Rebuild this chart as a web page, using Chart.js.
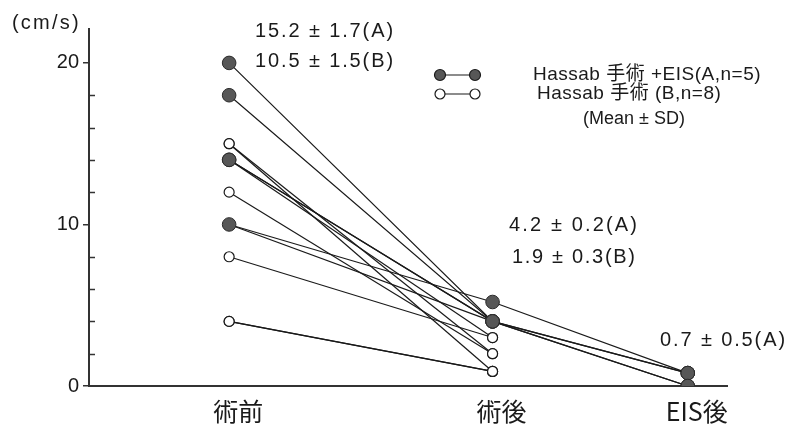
<!DOCTYPE html>
<html>
<head>
<meta charset="utf-8">
<script src="https://cdn.jsdelivr.net/npm/chart.js@4/dist/chart.umd.min.js"></script>
<style>
  html, body { margin: 0; padding: 0; background: #fff; }
</style>
</head>
<body>
<canvas id="myChart" width="792" height="434"></canvas>
<script>
// stages on the x axis
const stages = ['術前', '術後', 'EIS後'];

// group A: Hassab 手術 + EIS (n=5), cm/s
const groupAPre = [20, 18, 14, 14, 10];
const groupAPost = [4.0, 4.0, 4.0, 4.0, 5.2];
const groupAEis = [0, 0.8, 0, 0.8, 0.8];

// group B: Hassab 手術 only (n=8), cm/s
const groupBPre = [15, 15, 14, 12, 10, 8, 4, 4];
const groupBPost = [2.0, 0.9, 3.0, 2.0, 4.0, 3.0, 0.9, 0.9];

// y axis
const yTickLabels = [0, 10, 20];
const yMax = 22.1;

// summary texts (Mean ± SD)
const statsPre = ['15.2 ± 1.7(A)', '10.5 ± 1.5(B)'];
const statsPost = ['4.2 ± 0.2(A)', '1.9 ± 0.3(B)'];
const statsEis = ['0.7 ± 0.5(A)'];
const legendLabels = ['Hassab 手術 +EIS(A,n=5)', 'Hassab 手術 (B,n=8)', '(Mean ± SD)'];

// horizontal placement of the stages (stages are not evenly spaced)
const stageX = [0, 1, 1.741];

const lineColor = '#1a1a1a';
const filledColor = '#575757';

const datasets = [];
groupAPre.forEach((pre, i) => {
  datasets.push({
    data: [
      { x: stageX[0], y: pre },
      { x: stageX[1], y: groupAPost[i] },
      { x: stageX[2], y: groupAEis[i] },
    ],
    borderColor: lineColor,
    borderWidth: 1.2,
    pointRadius: 6.8,
    pointBackgroundColor: filledColor,
    pointBorderColor: '#2a2a2a',
    pointBorderWidth: 1,
  });
});
groupBPre.forEach((pre, i) => {
  datasets.push({
    data: [
      { x: stageX[0], y: pre },
      { x: stageX[1], y: groupBPost[i] },
    ],
    borderColor: lineColor,
    borderWidth: 1.2,
    pointRadius: 5,
    pointBackgroundColor: '#ffffff',
    pointBorderColor: '#1a1a1a',
    pointBorderWidth: 1.2,
  });
});

// draw text, widened a little (letter spacing) to span left..right
function fitText(ctx, text, left, right, y) {
  ctx.letterSpacing = '0px';
  const w = ctx.measureText(text).width;
  const n = [...text].length;
  let sp = (right - left - w) / Math.max(n - 1, 1);
  sp = Math.max(0, Math.min(2.2, sp));
  ctx.letterSpacing = sp.toFixed(2) + 'px';
  ctx.fillText(text, left, y);
}

// minor ticks inside the y axis, texts and legend
const extras = {
  id: 'extras',
  afterDraw(chart) {
    const ctx = chart.ctx;
    const y = chart.scales.y;
    const axisX = chart.chartArea.left;
    ctx.save();
    ctx.strokeStyle = '#333';
    ctx.lineWidth = 1.5;
    for (let v = 2; v <= 20; v += 2) {
      if (v % 10 === 0) continue;
      const py = Math.round(y.getPixelForValue(v)) + 0.5;
      ctx.beginPath();
      ctx.moveTo(axisX, py);
      ctx.lineTo(axisX + 6, py);
      ctx.stroke();
    }

    ctx.fillStyle = '#1a1a1a';
    ctx.textBaseline = 'middle';
    ctx.textAlign = 'left';

    ctx.font = '20px "Liberation Sans", Arial, sans-serif';
    fitText(ctx, '(cm/s)', 12, 80, 23);

    fitText(ctx, statsPre[0], 255, 393, 31);
    fitText(ctx, statsPre[1], 255, 393, 61);
    fitText(ctx, statsPost[0], 509, 637, 225);
    fitText(ctx, statsPost[1], 512, 635, 257);
    fitText(ctx, statsEis[0], 660, 785, 340);

    // legend
    const rows = [
      { y: 75, filled: true, text: legendLabels[0], tx: 533 },
      { y: 94, filled: false, text: legendLabels[1], tx: 537 },
    ];
    rows.forEach((r) => {
      ctx.strokeStyle = '#1a1a1a';
      ctx.lineWidth = 1.2;
      ctx.beginPath();
      ctx.moveTo(440, r.y);
      ctx.lineTo(475, r.y);
      ctx.stroke();
      [440, 475].forEach((mx) => {
        ctx.beginPath();
        ctx.arc(mx, r.y, r.filled ? 5.5 : 5, 0, Math.PI * 2);
        ctx.fillStyle = r.filled ? filledColor : '#ffffff';
        ctx.fill();
        ctx.stroke();
      });
      ctx.fillStyle = '#1a1a1a';
      ctx.font = '19px "Liberation Sans", "Noto Sans CJK JP", Arial, sans-serif';
      ctx.letterSpacing = '0.5px';
      ctx.fillText(r.text, r.tx, r.y);
    });
    ctx.font = '18px "Liberation Sans", Arial, sans-serif';
    fitText(ctx, legendLabels[2], 583, 678, 119);
    ctx.restore();
  },
};

new Chart(document.getElementById('myChart'), {
  type: 'line',
  data: { datasets: datasets },
  options: {
    responsive: false,
    animation: false,
    devicePixelRatio: 1,
    layout: { padding: { top: 29, right: 65, left: 0, bottom: 0 } },
    plugins: {
      legend: { display: false },
      tooltip: { enabled: false },
    },
    scales: {
      x: {
        type: 'linear',
        min: -0.532,
        max: 1.89,
        afterBuildTicks: (scale) => {
          scale.ticks = stageX.map((v) => ({ value: v }));
        },
        afterFit: (scale) => {
          scale.height = 48;
        },
        grid: { display: false, drawTicks: false },
        border: { display: true, color: '#333', width: 2 },
        ticks: {
          padding: 10,
          labelOffset: 9,
          autoSkip: false,
          maxRotation: 0,
          color: '#1a1a1a',
          font: { size: 25, family: '"Noto Sans CJK JP", "Liberation Sans", sans-serif' },
          callback: (value, index) => stages[index],
        },
      },
      y: {
        min: 0,
        max: yMax,
        afterBuildTicks: (scale) => {
          scale.ticks = yTickLabels.map((v) => ({ value: v }));
        },
        afterFit: (scale) => {
          scale.width = 89;
        },
        grid: {
          drawOnChartArea: false,
          drawTicks: true,
          tickLength: 6,
          color: '#333',
          lineWidth: 1.5,
        },
        border: { display: true, color: '#333', width: 2 },
        ticks: {
          padding: 4,
          color: '#1a1a1a',
          font: { size: 20, family: '"Liberation Sans", Arial, sans-serif' },
        },
      },
    },
  },
  plugins: [extras],
});
</script>
</body>
</html>
